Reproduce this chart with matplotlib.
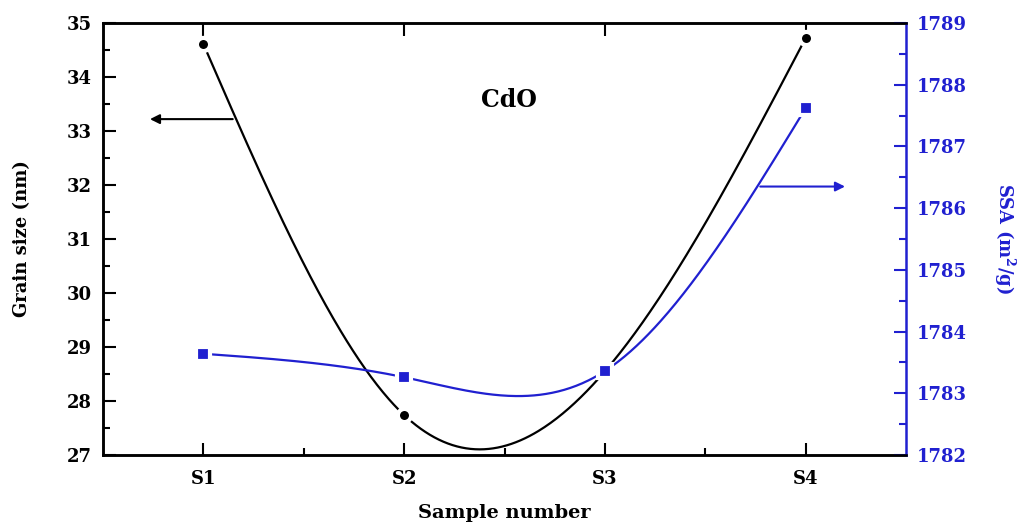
import numpy as np
import matplotlib
matplotlib.use("Agg")
import matplotlib.pyplot as plt

# data
samples = ["S1", "S2", "S3", "S4"]
grain_size = [34.61, 27.74, 28.55, 34.72]      # nm
ssa = [1783.64, 1783.26, 1783.36, 1787.62]     # m2/g

plt.rcParams["font.family"] = ["DejaVu Serif"]
plt.rcParams["font.weight"] = "bold"
plt.rcParams["mathtext.fontset"] = "dejavuserif"

blue = "#2020d0"


def natural_spline(xp, yp, xs):
    # natural cubic spline through the points, for the smooth connecting line
    xp = np.asarray(xp, float)
    yp = np.asarray(yp, float)
    n = len(xp)
    h = np.diff(xp)
    A = np.zeros((n, n))
    b = np.zeros(n)
    A[0, 0] = A[-1, -1] = 1
    for i in range(1, n - 1):
        A[i, i - 1] = h[i - 1]
        A[i, i] = 2 * (h[i - 1] + h[i])
        A[i, i + 1] = h[i]
        b[i] = 6 * ((yp[i + 1] - yp[i]) / h[i] - (yp[i] - yp[i - 1]) / h[i - 1])
    M = np.linalg.solve(A, b)
    k = np.clip(np.searchsorted(xp, xs) - 1, 0, n - 2)
    t0 = xp[k + 1] - xs
    t1 = xs - xp[k]
    hk = h[k]
    return (M[k] * t0**3 / (6 * hk) + M[k + 1] * t1**3 / (6 * hk)
            + (yp[k] / hk - M[k] * hk / 6) * t0
            + (yp[k + 1] / hk - M[k + 1] * hk / 6) * t1)


fig = plt.figure(figsize=(10.27, 5.24), dpi=100)
ax = fig.add_axes([0.1003, 0.1317, 0.7819, 0.8244])
ax2 = ax.twinx()

x = np.arange(1, len(samples) + 1)
xs = np.linspace(1, len(samples), 400)

ax.plot(xs, natural_spline(x, grain_size, xs), color="black", lw=1.6, zorder=2)
ax.plot(x, grain_size, "o", color="black", ms=9.5, mec="white", mew=3, zorder=3)

ax2.plot(xs, natural_spline(x, ssa, xs), color=blue, lw=1.6, zorder=2)
ax2.plot(x, ssa, "s", color=blue, ms=9.5, mec="white", mew=3, zorder=3)

ax.set_xlim(0.5, 4.5)
ax.set_ylim(27, 35)
ax2.set_ylim(1782, 1789)

ax.set_xticks(x)
ax.set_xticklabels(samples)
ax.set_xticks([1.5, 2.5, 3.5], minor=True)
ax.set_yticks(np.arange(27, 36, 1))
ax.set_yticks(np.arange(27.5, 35, 1), minor=True)
ax2.set_yticks(np.arange(1782, 1790, 1))
ax2.set_yticks(np.arange(1782.5, 1789, 1), minor=True)

ax.tick_params(axis="both", which="major", direction="in", length=9, width=1.5,
               labelsize=13, top=True, pad=8)
ax.tick_params(axis="x", which="major", pad=11)
ax.tick_params(axis="both", which="minor", direction="in", length=5, width=1.5, top=True)
ax.tick_params(axis="x", which="minor", top=False)
ax2.tick_params(axis="y", which="major", direction="in", length=9, width=1.5,
                labelsize=13, colors=blue, pad=8)
ax2.tick_params(axis="y", which="minor", direction="in", length=5, width=1.5, colors=blue)

for s in ["left", "bottom", "top"]:
    ax.spines[s].set_linewidth(1.8)
    ax2.spines[s].set_linewidth(1.8)
ax2.spines["right"].set_linewidth(1.8)
ax2.spines["right"].set_color(blue)
ax.spines["right"].set_visible(False)

ax.set_xlabel("Sample number", fontsize=14, fontweight="bold", labelpad=11)
ax.set_ylabel("Grain size (nm)", fontsize=13, fontweight="bold", labelpad=26)
ax2.set_ylabel("SSA (m$^2$/g)", fontsize=13, fontweight="bold", color=blue,
               rotation=270, labelpad=36)

ax.text(2.52, 33.57, "CdO", fontsize=17, fontweight="bold", ha="center", va="center")

# arrows pointing at the axis each curve belongs to
ax.annotate("", xy=(0.72, 33.22), xytext=(1.16, 33.22),
            arrowprops=dict(arrowstyle="-|>", color="black", lw=1.5, mutation_scale=14))
ax2.annotate("", xy=(4.21, 1786.35), xytext=(3.76, 1786.35),
             arrowprops=dict(arrowstyle="-|>", color=blue, lw=1.5, mutation_scale=14))

fig.savefig("out.png", dpi=100)
